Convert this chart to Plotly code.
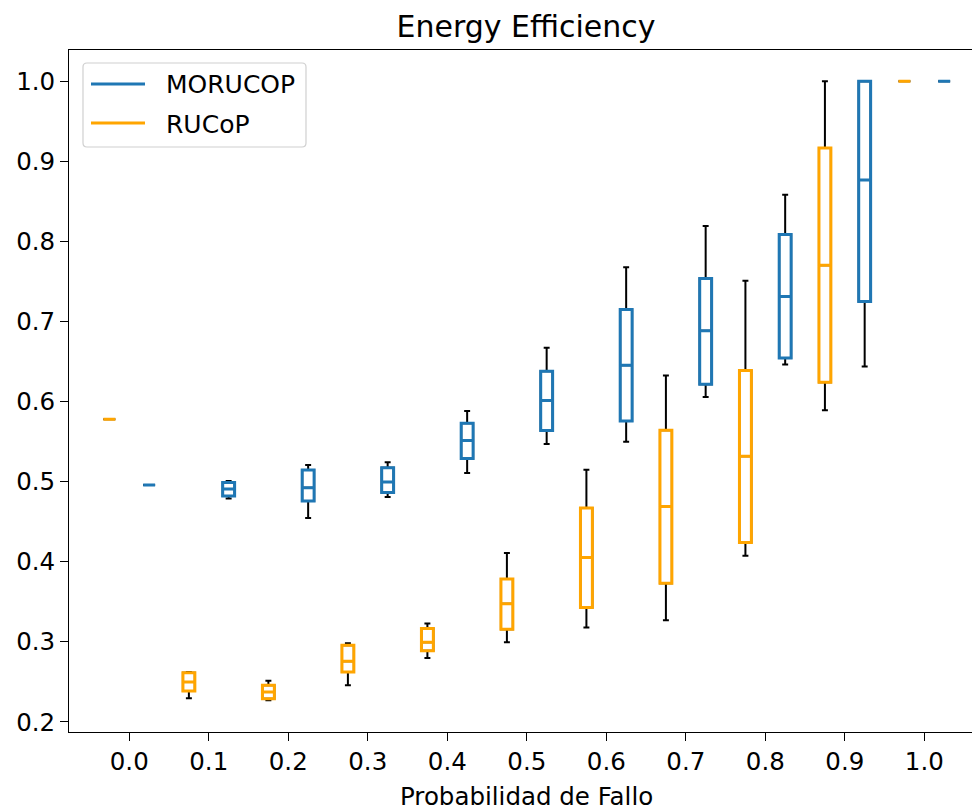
import plotly.graph_objects as go

# ---------------- data ----------------
probs = [0.0, 0.1, 0.2, 0.3, 0.4, 0.5, 0.6, 0.7, 0.8, 0.9, 1.0]
tick_labels = ["0.0", "0.1", "0.2", "0.3", "0.4", "0.5", "0.6", "0.7", "0.8", "0.9", "1.0"]

morucop_lower = [0.496, 0.479, 0.4546, 0.4809, 0.5109, 0.5471, 0.550, 0.6059, 0.6463, 0.6438, 1.0]
morucop_q1 = [0.496, 0.482, 0.476, 0.4866, 0.5291, 0.5638, 0.5759, 0.6217, 0.6546, 0.725, 1.0]
morucop_med = [0.496, 0.491, 0.4925, 0.4996, 0.5513, 0.6013, 0.6454, 0.6884, 0.7313, 0.8767, 1.0]
morucop_q3 = [0.496, 0.499, 0.5146, 0.5175, 0.5729, 0.6379, 0.715, 0.7538, 0.8088, 1.0, 1.0]
morucop_upper = [0.496, 0.501, 0.5208, 0.5242, 0.5884, 0.6671, 0.7679, 0.8192, 0.8583, 1.0, 1.0]

rucop_lower = [0.578, 0.2296, 0.2271, 0.2459, 0.280, 0.2996, 0.3179, 0.3271, 0.4075, 0.5892, 1.0]
rucop_q1 = [0.578, 0.2388, 0.229, 0.2625, 0.2888, 0.3159, 0.3429, 0.3733, 0.4241, 0.6241, 1.0]
rucop_med = [0.578, 0.250, 0.2375, 0.2759, 0.2996, 0.3475, 0.4054, 0.4691, 0.5317, 0.7704, 1.0]
rucop_q3 = [0.578, 0.2616, 0.2459, 0.2959, 0.3166, 0.3784, 0.4671, 0.5642, 0.6388, 0.9167, 1.0]
rucop_upper = [0.578, 0.2625, 0.2516, 0.2984, 0.3229, 0.4109, 0.515, 0.6325, 0.7509, 1.0, 1.0]

series_names = ["MORUCOP", "RUCoP"]
series_colors = ["#1f77b4", "#FFA500"]
series_offsets = [0.025, -0.025]
series_stats = [
    (morucop_lower, morucop_q1, morucop_med, morucop_q3, morucop_upper),
    (rucop_lower, rucop_q1, rucop_med, rucop_q3, rucop_upper),
]

BOX_W = 0.015
FONT = "DejaVu Sans"

fig = go.Figure()

for name, color, off, (lo, q1, med, q3, up) in zip(series_names, series_colors, series_offsets, series_stats):
    xs = [p + off for p in probs]
    # black whiskers and caps
    fig.add_trace(go.Box(
        x=xs, q1=q1, median=med, q3=q3, lowerfence=lo, upperfence=up,
        width=BOX_W, whiskerwidth=0.5, orientation="v", name=name,
        line=dict(color="black", width=2), fillcolor="rgba(0,0,0,0)",
        showlegend=False, hoverinfo="skip",
    ))
    # coloured box drawn on top
    fig.add_trace(go.Box(
        x=xs, q1=q1, median=med, q3=q3, lowerfence=q1, upperfence=q3,
        width=BOX_W, whiskerwidth=0, orientation="v", name=name,
        line=dict(color=color, width=3), fillcolor="rgba(255,255,255,0)",
        showlegend=False, hoverinfo="skip",
    ))

# ---- layout helpers (pixel -> paper) ----
L, R, T, B = 69, 972, 50, 732
def px(x):
    return (x - L) / (R - L)
def py(y):
    return (B - y) / (B - T)

# legend frame (rounded rectangle, matplotlib style)
x0, x1, y0, y1, r = 83, 306, 63, 147, 4
path = (f"M {px(x0 + r)},{py(y0)} L {px(x1 - r)},{py(y0)} Q {px(x1)},{py(y0)} {px(x1)},{py(y0 + r)} "
        f"L {px(x1)},{py(y1 - r)} Q {px(x1)},{py(y1)} {px(x1 - r)},{py(y1)} "
        f"L {px(x0 + r)},{py(y1)} Q {px(x0)},{py(y1)} {px(x0)},{py(y1 - r)} "
        f"L {px(x0)},{py(y0 + r)} Q {px(x0)},{py(y0)} {px(x0 + r)},{py(y0)} Z")
shapes = [dict(type="path", xref="paper", yref="paper", path=path,
               line=dict(color="#d0d0d0", width=1.2), fillcolor="rgba(255,255,255,0.8)", layer="above")]
annotations = []
legend_rows = [84, 123]
for name, color, yy in zip(series_names, series_colors, legend_rows):
    shapes.append(dict(type="line", xref="paper", yref="paper",
                       x0=px(91), x1=px(145), y0=py(yy), y1=py(yy),
                       line=dict(color=color, width=3), layer="above"))
    annotations.append(dict(text=name, xref="paper", yref="paper", x=px(164), y=py(yy + 1),
                            xanchor="left", yanchor="middle", showarrow=False,
                            font=dict(size=25, family=FONT, color="black")))

annotations.append(dict(text="Probabilidad de Fallo", xref="paper", yref="paper",
                        x=px(526), y=py(796), xanchor="center", yanchor="middle", showarrow=False,
                        font=dict(size=24.5, family=FONT, color="black")))

fig.update_layout(
    width=972, height=810,
    margin=dict(l=L, r=972 - R, t=T, b=810 - B),
    paper_bgcolor="white", plot_bgcolor="white",
    font=dict(family=FONT, size=24.5, color="black"),
    boxmode="overlay",
    showlegend=False,
    title=dict(text="Energy Efficiency", font=dict(size=30, family=FONT, color="black"),
               x=526 / 972, xref="container", xanchor="center",
               y=1 - 26 / 810, yref="container", yanchor="middle"),
    shapes=shapes,
    annotations=annotations,
)

fig.update_xaxes(
    range=[-0.0758, 1.06],
    tickmode="array", tickvals=probs, ticktext=tick_labels,
    showline=True, linecolor="black", linewidth=1, mirror=True,
    ticks="outside", ticklen=8, tickwidth=1, tickcolor="black",
    showgrid=False, zeroline=False,
)
fig.update_yaxes(
    range=[0.1875, 1.039], dtick=0.1, tick0=0, tickformat=".1f",
    showline=True, linecolor="black", linewidth=1,
    ticks="outside", ticklen=8, tickwidth=1, tickcolor="black",
    showgrid=False, zeroline=False,
)

fig.write_html("out.html")
